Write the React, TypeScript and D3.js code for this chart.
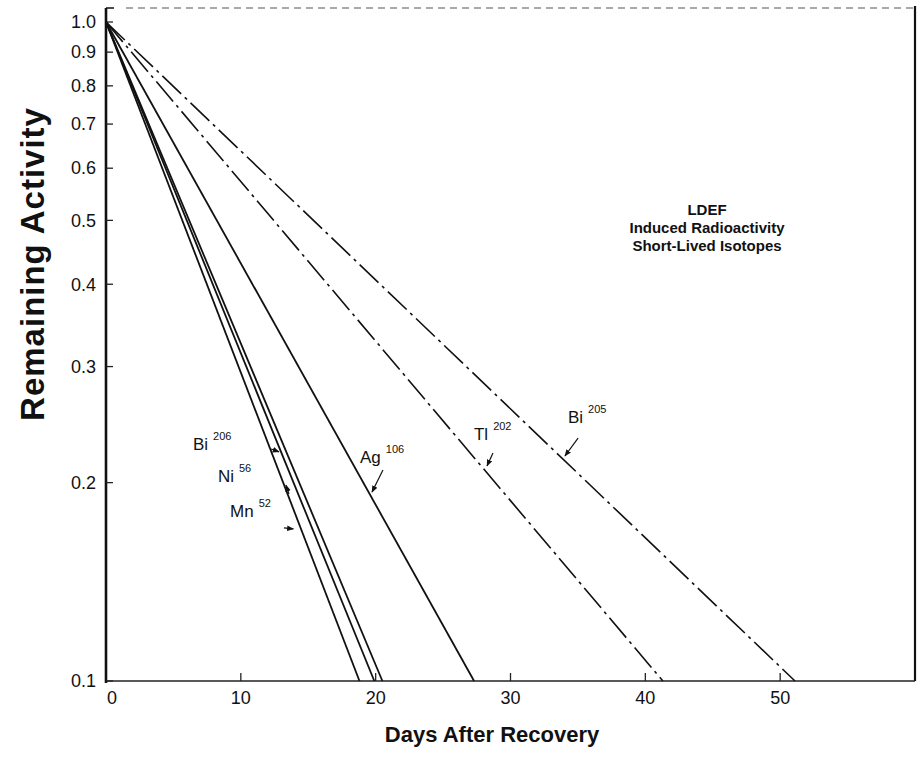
import React from "react";
import * as d3 from "d3";

// ---- data ----
const elements = ["Mn", "Ni", "Bi", "Ag", "Tl", "Bi"];
const massNumbers = ["52", "56", "206", "106", "202", "205"];
// day at which each isotope's remaining activity reaches 0.1 (line starts at day 0, activity 1.0)
const daysToTenth = [18.8, 19.9, 20.5, 27.3, 41.3, 51.1];
const lineStyles = ["solid", "solid", "solid", "solid", "dashdot", "dashdot"];

// label anchor (day, activity) for each isotope
const labelDays = [9.2, 8.3, 6.45, 18.84, 27.29, 34.26];
const labelActs = [0.1773, 0.2004, 0.2241, 0.2142, 0.2321, 0.2463];
// pointer arrows: tail and tip (day, activity)
const arrowTailDays = [13.2, 13.57, 12.24, 20.54, 28.7, 35.01];
const arrowTailActs = [0.1707, 0.1922, 0.2249, 0.209, 0.2218, 0.2337];
const arrowTipDays = [13.9, 13.35, 12.83, 19.73, 28.26, 34.04];
const arrowTipActs = [0.1701, 0.1983, 0.2227, 0.1935, 0.212, 0.2195];

const yTickValues = [1.0, 0.9, 0.8, 0.7, 0.6, 0.5, 0.4, 0.3, 0.2, 0.1];
const xTickValues = [0, 10, 20, 30, 40, 50];
const titleLines = ["LDEF", "Induced Radioactivity", "Short-Lived Isotopes"];

const W = 920;
const H = 762;
const FONT = "'Liberation Sans', Arial, Helvetica, sans-serif";

export default function App() {
  const x = d3.scaleLinear().domain([0, 60]).range([106, 915]);
  const y = d3.scaleLog().domain([0.1, 1]).range([681, 22]);
  const line = d3
    .line<[number, number]>()
    .x((d) => x(d[0]))
    .y((d) => y(d[1]));

  const x0 = x(0);
  const yb = y(0.1);

  return (
    <svg
      width={W}
      height={H}
      viewBox={`0 0 ${W} ${H}`}
      style={{ position: "absolute", left: 0, top: 0, background: "#fff" }}
      fontFamily={FONT}
    >
      <defs>
        <marker
          id="ah"
          viewBox="0 0 10 10"
          refX="9"
          refY="5"
          markerWidth="7"
          markerHeight="7"
          orient="auto"
          markerUnits="userSpaceOnUse"
        >
          <path d="M0,1 L10,5 L0,9 Z" fill="#111" />
        </marker>
      </defs>
      <rect x={0} y={0} width={W} height={H} fill="#fff" />

      {/* frame */}
      <line x1={x0 + 20} y1={8} x2={x(60)} y2={8} stroke="#555" strokeWidth={1.2} strokeDasharray="7 5" />
      <line x1={x(60)} y1={6} x2={x(60)} y2={yb} stroke="#111" strokeWidth={2.2} />
      <line x1={x0} y1={yb} x2={x(60)} y2={yb} stroke="#222" strokeWidth={1.4} />
      <line x1={x0} y1={8} x2={x0} y2={yb + 2} stroke="#111" strokeWidth={2.6} />
      <line x1={x0} y1={8} x2={x0 + 8} y2={8} stroke="#111" strokeWidth={1.5} />

      {/* y ticks */}
      {yTickValues.map((v) => (
        <g key={"yt" + v}>
          <line x1={x0} y1={y(v)} x2={x0 + 7} y2={y(v)} stroke="#222" strokeWidth={1.3} />
          <text
            x={96}
            y={y(v)}
            dy="0.35em"
            textAnchor="end"
            fontSize={18}
            fill="#111"
          >
            {v.toFixed(1)}
          </text>
        </g>
      ))}

      {/* x ticks */}
      {xTickValues.map((v) => (
        <g key={"xt" + v}>
          {v > 0 && (
            <line x1={x(v)} y1={yb} x2={x(v)} y2={yb - 8} stroke="#222" strokeWidth={1.3} />
          )}
          <text
            x={v === 0 ? x(v) + 6 : x(v)}
            y={yb + 23}
            textAnchor="middle"
            fontSize={18}
            fill="#111"
          >
            {v}
          </text>
        </g>
      ))}

      {/* decay lines */}
      {daysToTenth.map((d, i) => (
        <path
          key={"l" + i}
          d={line([
            [0, 1],
            [d, 0.1],
          ]) as string}
          fill="none"
          stroke="#111"
          strokeWidth={lineStyles[i] === "solid" ? 1.8 : 1.6}
          strokeDasharray={lineStyles[i] === "solid" ? undefined : "26 5 3 5"}
        />
      ))}

      {/* isotope labels */}
      {elements.map((el, i) => (
        <text
          key={"lb" + i}
          x={x(labelDays[i])}
          y={y(labelActs[i])}
          fontSize={17}
          fill="#111"
        >
          {el}
          <tspan dx={5} dy={-10} fontSize={11}>
            {massNumbers[i]}
          </tspan>
        </text>
      ))}

      {/* pointer arrows */}
      {arrowTipDays.map((d, i) => (
        <line
          key={"ar" + i}
          x1={x(arrowTailDays[i])}
          y1={y(arrowTailActs[i])}
          x2={x(d)}
          y2={y(arrowTipActs[i])}
          stroke="#111"
          strokeWidth={1.2}
          markerEnd="url(#ah)"
        />
      ))}

      {/* title block */}
      {titleLines.map((t, i) => (
        <text
          key={"tt" + i}
          x={707}
          y={215 + i * 18}
          textAnchor="middle"
          fontSize={15}
          fontWeight="bold"
          fill="#111"
        >
          {t}
        </text>
      ))}

      {/* axis titles */}
      <text
        transform={`translate(44, 264) rotate(-90)`}
        textAnchor="middle"
        fontSize={33}
        fontWeight="bold"
        letterSpacing={1}
        fill="#111"
      >
        Remaining Activity
      </text>
      <text x={492} y={742} textAnchor="middle" fontSize={22} fontWeight="bold" fill="#111">
        Days After Recovery
      </text>
    </svg>
  );
}
